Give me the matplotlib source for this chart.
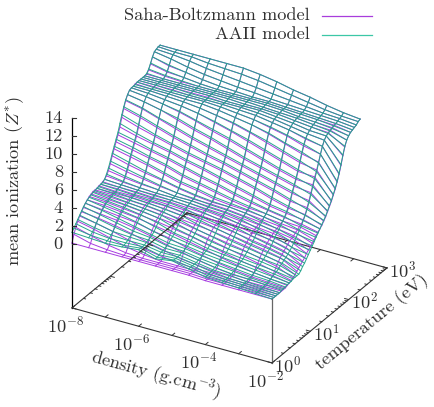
import numpy as np
import matplotlib
matplotlib.use('Agg')
import matplotlib.pyplot as plt

plt.rcParams['font.family'] = ['cmr10', 'DejaVu Sans']
plt.rcParams['mathtext.fontset'] = 'cm'
plt.rcParams['axes.unicode_minus'] = False

log_density = [-8, -7.5, -7, -6.5, -6, -5.5, -5, -4.5, -4, -3.5, -3, -2.5, -2]
log_temp = [0.00, 0.05, 0.10, 0.15, 0.20, 0.25, 0.30, 0.35, 0.40, 0.45, 0.50, 0.55,
            0.60, 0.65, 0.70, 0.75, 0.80, 0.85, 0.90, 0.95, 1.00, 1.05, 1.10, 1.15,
            1.20, 1.25, 1.30, 1.35, 1.40, 1.45, 1.50, 1.55, 1.60, 1.65, 1.70, 1.75,
            1.80, 1.85, 1.90, 1.95, 2.00, 2.05, 2.10, 2.15, 2.20, 2.25, 2.30]

# one list per density
aaii = [
    [1.3,1.6,1.9,2.2,2.5,2.8,3.1,3.3,3.5,3.6,3.7,3.8,3.8,3.9,3.9,4.0,4.0,4.2,4.6,5.1,5.7,6.4,7.0,7.6,8.2,9.0,9.8,10.5,11.1,11.5,11.8,11.9,11.9,11.9,12.0,12.0,12.0,12.0,12.0,12.1,12.4,12.9,13.4,13.8,13.9,14.0,14.0],
    [1.2,1.3,1.5,1.8,2.1,2.4,2.7,3.0,3.2,3.4,3.5,3.6,3.7,3.8,3.8,3.9,4.0,4.1,4.3,4.7,5.3,5.9,6.6,7.2,7.8,8.4,9.2,10.0,10.7,11.2,11.6,11.8,11.9,11.9,11.9,12.0,12.0,12.0,12.0,12.0,12.2,12.5,13.0,13.5,13.8,13.9,14.0],
    [1.1,1.2,1.3,1.5,1.7,2.0,2.3,2.6,2.9,3.1,3.3,3.4,3.5,3.6,3.7,3.8,3.9,4.0,4.1,4.4,4.9,5.4,6.1,6.7,7.3,7.9,8.6,9.4,10.1,10.8,11.3,11.6,11.8,11.9,11.9,11.9,12.0,12.0,12.0,12.0,12.1,12.3,12.7,13.1,13.6,13.9,14.0],
    [1.2,1.2,1.3,1.4,1.6,1.7,1.9,2.2,2.5,2.8,3.0,3.2,3.3,3.5,3.6,3.7,3.8,3.9,4.0,4.2,4.5,5.0,5.6,6.3,6.9,7.5,8.1,8.8,9.6,10.4,11.0,11.4,11.7,11.8,11.9,11.9,11.9,12.0,12.0,12.0,12.0,12.1,12.4,12.8,13.3,13.7,14.0],
    [1.4,1.4,1.4,1.4,1.5,1.6,1.7,1.8,2.0,2.3,2.6,2.9,3.1,3.3,3.4,3.6,3.8,3.9,4.0,4.0,4.2,4.6,5.1,5.7,6.4,7.0,7.6,8.3,9.0,9.8,10.5,11.1,11.5,11.8,11.9,11.9,11.9,12.0,12.0,12.0,12.0,12.0,12.2,12.6,13.1,13.6,14.0],
    [0.9,0.9,1.0,1.1,1.1,1.2,1.3,1.4,1.6,1.8,2.0,2.3,2.6,2.9,3.2,3.4,3.6,3.8,3.9,4.0,4.1,4.3,4.8,5.3,5.9,6.6,7.2,7.8,8.5,9.3,10.0,10.7,11.2,11.6,11.8,11.9,11.9,11.9,12.0,12.0,12.0,12.0,12.1,12.4,12.9,13.5,14.0],
    [1.2,1.1,1.1,1.1,1.1,1.2,1.2,1.3,1.4,1.5,1.7,1.9,2.1,2.4,2.7,3.0,3.2,3.5,3.7,3.8,3.9,4.1,4.4,4.9,5.5,6.1,6.8,7.4,8.0,8.7,9.5,10.2,10.9,11.3,11.6,11.8,11.9,11.9,11.9,12.0,12.0,12.0,12.0,12.3,12.7,13.3,13.8],
    [0.8,0.8,0.8,0.8,0.8,0.9,0.9,1.0,1.1,1.2,1.3,1.5,1.7,2.0,2.3,2.6,2.9,3.2,3.5,3.7,3.8,4.0,4.2,4.5,5.0,5.6,6.3,6.9,7.5,8.1,8.9,9.7,10.4,11.0,11.4,11.7,11.8,11.9,11.9,11.9,12.0,12.0,12.0,12.1,12.5,13.0,13.5],
    [0.4,0.4,0.4,0.5,0.5,0.6,0.7,0.8,0.9,1.0,1.1,1.2,1.4,1.6,1.9,2.2,2.5,2.8,3.1,3.4,3.6,3.8,4.0,4.2,4.6,5.1,5.8,6.4,7.0,7.6,8.3,9.1,9.9,10.6,11.1,11.4,11.6,11.7,11.8,11.8,11.9,11.9,11.9,12.0,12.3,12.7,13.1],
    [0.3,0.3,0.3,0.3,0.4,0.4,0.5,0.6,0.7,0.8,0.9,1.0,1.2,1.4,1.6,1.8,2.0,2.3,2.6,2.9,3.2,3.4,3.7,3.9,4.2,4.6,5.2,5.9,6.5,7.1,7.7,8.5,9.3,10.0,10.7,11.1,11.3,11.5,11.6,11.7,11.7,11.8,11.8,11.9,12.1,12.4,12.8],
    [0.2,0.2,0.2,0.2,0.2,0.3,0.3,0.4,0.5,0.6,0.7,0.8,1.0,1.1,1.3,1.5,1.7,1.9,2.2,2.5,2.8,3.0,3.3,3.6,3.9,4.3,4.7,5.3,6.0,6.6,7.2,7.9,8.7,9.5,10.2,10.7,11.0,11.2,11.4,11.5,11.6,11.7,11.7,11.8,11.9,12.1,12.4],
    [0.1,0.1,0.1,0.1,0.1,0.2,0.2,0.3,0.3,0.4,0.5,0.6,0.7,0.9,1.0,1.2,1.3,1.5,1.7,1.9,2.2,2.5,2.8,3.1,3.4,3.8,4.2,4.7,5.3,6.0,6.7,7.4,8.0,8.8,9.6,10.3,10.8,11.1,11.2,11.3,11.4,11.5,11.6,11.7,11.8,11.9,12.1],
    [0.0,0.0,0.0,0.0,0.0,0.1,0.1,0.1,0.2,0.2,0.2,0.3,0.3,0.3,0.3,0.5,0.8,1.0,1.3,1.6,1.9,2.2,2.5,2.8,3.1,3.4,3.7,4.0,4.3,4.7,5.1,5.5,6.0,6.5,7.1,7.8,8.6,9.5,10.3,10.8,11.1,11.3,11.4,11.5,11.6,11.8,11.9],
]
saha = [
    [0.1,0.9,1.5,2.0,2.4,2.7,3.0,3.3,3.5,3.7,3.8,3.9,3.9,3.9,4.0,4.0,4.1,4.2,4.4,4.8,5.4,6.1,6.7,7.3,7.9,8.6,9.5,10.3,11.0,11.5,11.8,11.9,11.9,12.0,12.0,12.0,12.0,12.0,12.0,12.0,12.3,12.8,13.4,13.8,13.9,14.0,14.0],
    [0.1,0.4,1.0,1.6,2.1,2.5,2.8,3.1,3.4,3.6,3.7,3.8,3.9,3.9,3.9,4.0,4.0,4.1,4.2,4.5,5.0,5.6,6.3,6.9,7.5,8.1,8.9,9.8,10.6,11.2,11.6,11.8,11.9,11.9,12.0,12.0,12.0,12.0,12.0,12.0,12.1,12.4,12.9,13.5,13.8,13.9,14.0],
    [0.1,0.2,0.5,1.1,1.7,2.2,2.6,2.9,3.2,3.4,3.6,3.7,3.8,3.9,3.9,3.9,4.0,4.0,4.1,4.3,4.7,5.2,5.9,6.5,7.1,7.7,8.4,9.2,10.0,10.8,11.3,11.6,11.8,11.9,11.9,12.0,12.0,12.0,12.0,12.0,12.0,12.3,12.7,13.1,13.6,13.9,14.0],
    [0.1,0.1,0.2,0.6,1.2,1.8,2.3,2.7,3.0,3.2,3.4,3.6,3.7,3.8,3.8,3.9,3.9,4.0,4.0,4.2,4.4,4.9,5.4,6.1,6.7,7.3,7.9,8.6,9.4,10.2,10.9,11.4,11.7,11.8,11.9,11.9,12.0,12.0,12.0,12.0,12.0,12.1,12.4,12.8,13.3,13.7,14.0],
    [0.1,0.1,0.1,0.3,0.7,1.3,1.9,2.3,2.7,3.0,3.2,3.4,3.5,3.7,3.8,3.8,3.9,3.9,4.0,4.0,4.2,4.5,4.9,5.5,6.2,6.8,7.4,8.1,8.8,9.6,10.4,11.1,11.5,11.8,11.9,11.9,12.0,12.0,12.0,12.0,12.0,12.0,12.2,12.6,13.1,13.6,14.0],
    [0.1,0.1,0.1,0.1,0.4,0.9,1.4,2.0,2.4,2.7,3.0,3.2,3.3,3.5,3.6,3.7,3.8,3.8,3.9,4.0,4.0,4.2,4.6,5.1,5.7,6.4,7.0,7.6,8.3,9.1,9.8,10.6,11.2,11.6,11.8,11.9,11.9,11.9,12.0,12.0,12.0,12.0,12.1,12.4,12.9,13.5,14.0],
    [0.1,0.1,0.1,0.1,0.2,0.5,1.0,1.5,2.0,2.4,2.7,2.9,3.1,3.3,3.5,3.6,3.7,3.8,3.8,3.9,4.0,4.0,4.2,4.7,5.3,5.9,6.6,7.2,7.8,8.5,9.3,10.1,10.8,11.3,11.6,11.8,11.9,11.9,11.9,12.0,12.0,12.0,12.0,12.3,12.7,13.3,13.8],
    [0.1,0.1,0.1,0.1,0.1,0.3,0.6,1.1,1.6,2.0,2.4,2.6,2.9,3.1,3.2,3.4,3.5,3.6,3.7,3.8,3.9,4.0,4.0,4.3,4.8,5.4,6.1,6.7,7.3,7.9,8.7,9.5,10.3,11.0,11.4,11.7,11.8,11.9,11.9,11.9,12.0,12.0,12.0,12.1,12.5,13.0,13.5],
    [0.0,0.0,0.0,0.1,0.1,0.1,0.3,0.7,1.2,1.6,2.0,2.3,2.6,2.8,3.0,3.1,3.3,3.4,3.5,3.6,3.7,3.8,3.9,4.0,4.4,4.9,5.6,6.2,6.8,7.4,8.1,8.9,9.7,10.5,11.0,11.4,11.6,11.7,11.8,11.8,11.9,11.9,11.9,12.0,12.3,12.7,13.1],
    [0.0,0.0,0.0,0.0,0.0,0.1,0.1,0.4,0.8,1.2,1.6,2.0,2.3,2.5,2.7,2.9,3.0,3.2,3.3,3.4,3.5,3.6,3.7,3.9,4.1,4.4,5.0,5.7,6.3,6.9,7.5,8.3,9.1,9.9,10.6,11.1,11.3,11.5,11.6,11.7,11.7,11.8,11.8,11.9,12.1,12.4,12.8],
    [0.0,0.0,0.0,0.0,0.0,0.0,0.1,0.2,0.5,0.9,1.2,1.6,1.9,2.2,2.4,2.6,2.8,2.9,3.1,3.2,3.3,3.4,3.5,3.6,3.8,4.1,4.5,5.1,5.8,6.4,7.0,7.7,8.5,9.3,10.0,10.6,11.0,11.2,11.4,11.5,11.6,11.7,11.7,11.8,11.9,12.1,12.4],
    [0.0,0.0,0.0,0.0,0.0,0.0,0.0,0.1,0.3,0.5,0.8,1.2,1.5,1.8,2.0,2.2,2.4,2.6,2.8,2.9,3.0,3.2,3.3,3.5,3.6,3.9,4.3,4.9,5.5,6.2,6.9,7.6,8.2,8.9,9.6,10.3,10.8,11.1,11.3,11.4,11.5,11.6,11.6,11.7,11.8,11.9,12.1],
    [0.0,0.0,0.0,0.0,0.0,0.0,0.0,0.0,0.1,0.2,0.3,0.4,0.6,0.8,1.0,1.2,1.4,1.6,1.9,2.1,2.3,2.5,2.7,3.0,3.2,3.4,3.6,3.9,4.2,4.6,5.0,5.4,5.9,6.4,7.0,7.7,8.5,9.4,10.2,10.8,11.1,11.3,11.4,11.5,11.6,11.8,11.9],
]

z_ticks = [0, 2, 4, 6, 8, 10, 12, 14]
density_ticks = [-8, -7, -6, -5, -4, -3, -2]
density_labels = {-8: r'$10^{-8}$', -6: r'$10^{-6}$', -4: r'$10^{-4}$', -2: r'$10^{-2}$'}
temp_ticks = [0, 1, 2, 3]
temp_labels = [r'$10^{0}$', r'$10^{1}$', r'$10^{2}$', r'$10^{3}$']

PURPLE = '#a63be0'
TEAL = '#25a58c'
AXIS = '#333333'
TEXT = '#303030'
FS = 13.2


# gnuplot style oblique view, result is in image pixels
def proj(rho, temp, z):
    d = np.asarray(rho, dtype=float) + 8
    t = np.asarray(temp, dtype=float)
    z = np.asarray(z, dtype=float)
    return 72 + 33.33 * d + 38.33 * t, 244 + 9.17 * d - 31.67 * t - 9.0 * z


fig = plt.figure(figsize=(4.35, 4.07), dpi=100)
ax = fig.add_axes([0, 0, 1, 1])
ax.set_xlim(0, 435)
ax.set_ylim(407, 0)
ax.axis('off')

rr, tt = np.meshgrid(log_density, log_temp)
for table, color in [(saha, PURPLE), (aaii, TEAL)]:
    zz = np.array(table).T
    xs, ys = proj(rr, tt, zz)
    ax.plot(xs, ys, color=color, lw=0.7, zorder=2)
    ax.plot(xs.T, ys.T, color=color, lw=0.7, zorder=2)

# base of the box sits below z=0, far edge goes under the mesh
z_base = -7.1
corners = [(-8, 3), (-8, 0), (-2, 0), (-2, 3)]
xs, ys = proj([c[0] for c in corners], [c[1] for c in corners], z_base)
ax.plot(xs, ys, color=AXIS, lw=0.8, zorder=3)
xs, ys = proj([-2, -8], [3, 3], z_base)
ax.plot(xs, ys, color=AXIS, lw=0.8, zorder=1)

# z axis and the short edge at the front corner
xs, ys = proj([-8, -8], [0, 0], [z_base, 14])
ax.plot(xs, ys, color='black', lw=0.9, zorder=3)
xs, ys = proj([-2, -2], [0, 0], [z_base, 0])
ax.plot(xs, ys, color='#666666', lw=0.9, zorder=3)

for v in z_ticks:
    x0, y0 = proj(-8, 0, v)
    ax.plot([x0, x0 + 4], [y0, y0], color=AXIS, lw=0.8, zorder=3)
    ax.text(x0 - 9, y0, str(v), ha='right', va='center', fontsize=FS, color=TEXT)

for v in density_ticks:
    xs, ys = proj([v, v], [0, 0.07], z_base)
    ax.plot(xs, ys, color=AXIS, lw=0.7, zorder=3)
    xs, ys = proj([v, v], [3, 2.93], z_base)
    ax.plot(xs, ys, color=AXIS, lw=0.7, zorder=1)
    if v in density_labels:
        x0, y0 = proj(v, 0, z_base)
        ax.text(x0 - 7, y0 + 17, density_labels[v], ha='center', va='center', fontsize=FS, color=TEXT)

for i, v in enumerate(temp_ticks):
    for m, size in [(1, 0.12), (2, 0.06), (3, 0.06), (4, 0.06), (5, 0.06), (6, 0.06), (7, 0.06), (8, 0.06), (9, 0.06)]:
        pos = v + np.log10(m)
        if pos > 3:
            continue
        xs, ys = proj([-2, -2 - size], [pos, pos], z_base)
        ax.plot(xs, ys, color=AXIS, lw=0.7, zorder=3)
        xs, ys = proj([-8, -8 + size], [pos, pos], z_base)
        ax.plot(xs, ys, color=AXIS, lw=0.7, zorder=3)
    x0, y0 = proj(-2, v, z_base)
    ax.text(x0 + 16, y0 + 2, temp_labels[i], ha='center', va='center', fontsize=FS, color=TEXT)

ax.text(156, 375, r'density (g.cm$^{-3}$)', rotation=-15.4, rotation_mode='anchor',
        ha='center', va='center', fontsize=FS, color=TEXT)
ax.text(372, 322, 'temperature (eV)', rotation=39.6, rotation_mode='anchor',
        ha='center', va='center', fontsize=FS, color=TEXT)
ax.text(15, 181, r'mean ionization ($Z^{*}$)', rotation=90, ha='center', va='center', fontsize=FS, color=TEXT)

# legend
ax.text(310, 20, 'Saha-Boltzmann model', ha='right', va='baseline', fontsize=FS, color=TEXT)
ax.text(310, 39, 'AAII model', ha='right', va='baseline', fontsize=FS, color=TEXT)
ax.plot([322, 372], [15.5, 15.5], color='#a83ddc', lw=0.9)
ax.plot([322, 372], [34.5, 34.5], color='#3cc7a6', lw=0.9)

fig.savefig('out.png', dpi=100)
